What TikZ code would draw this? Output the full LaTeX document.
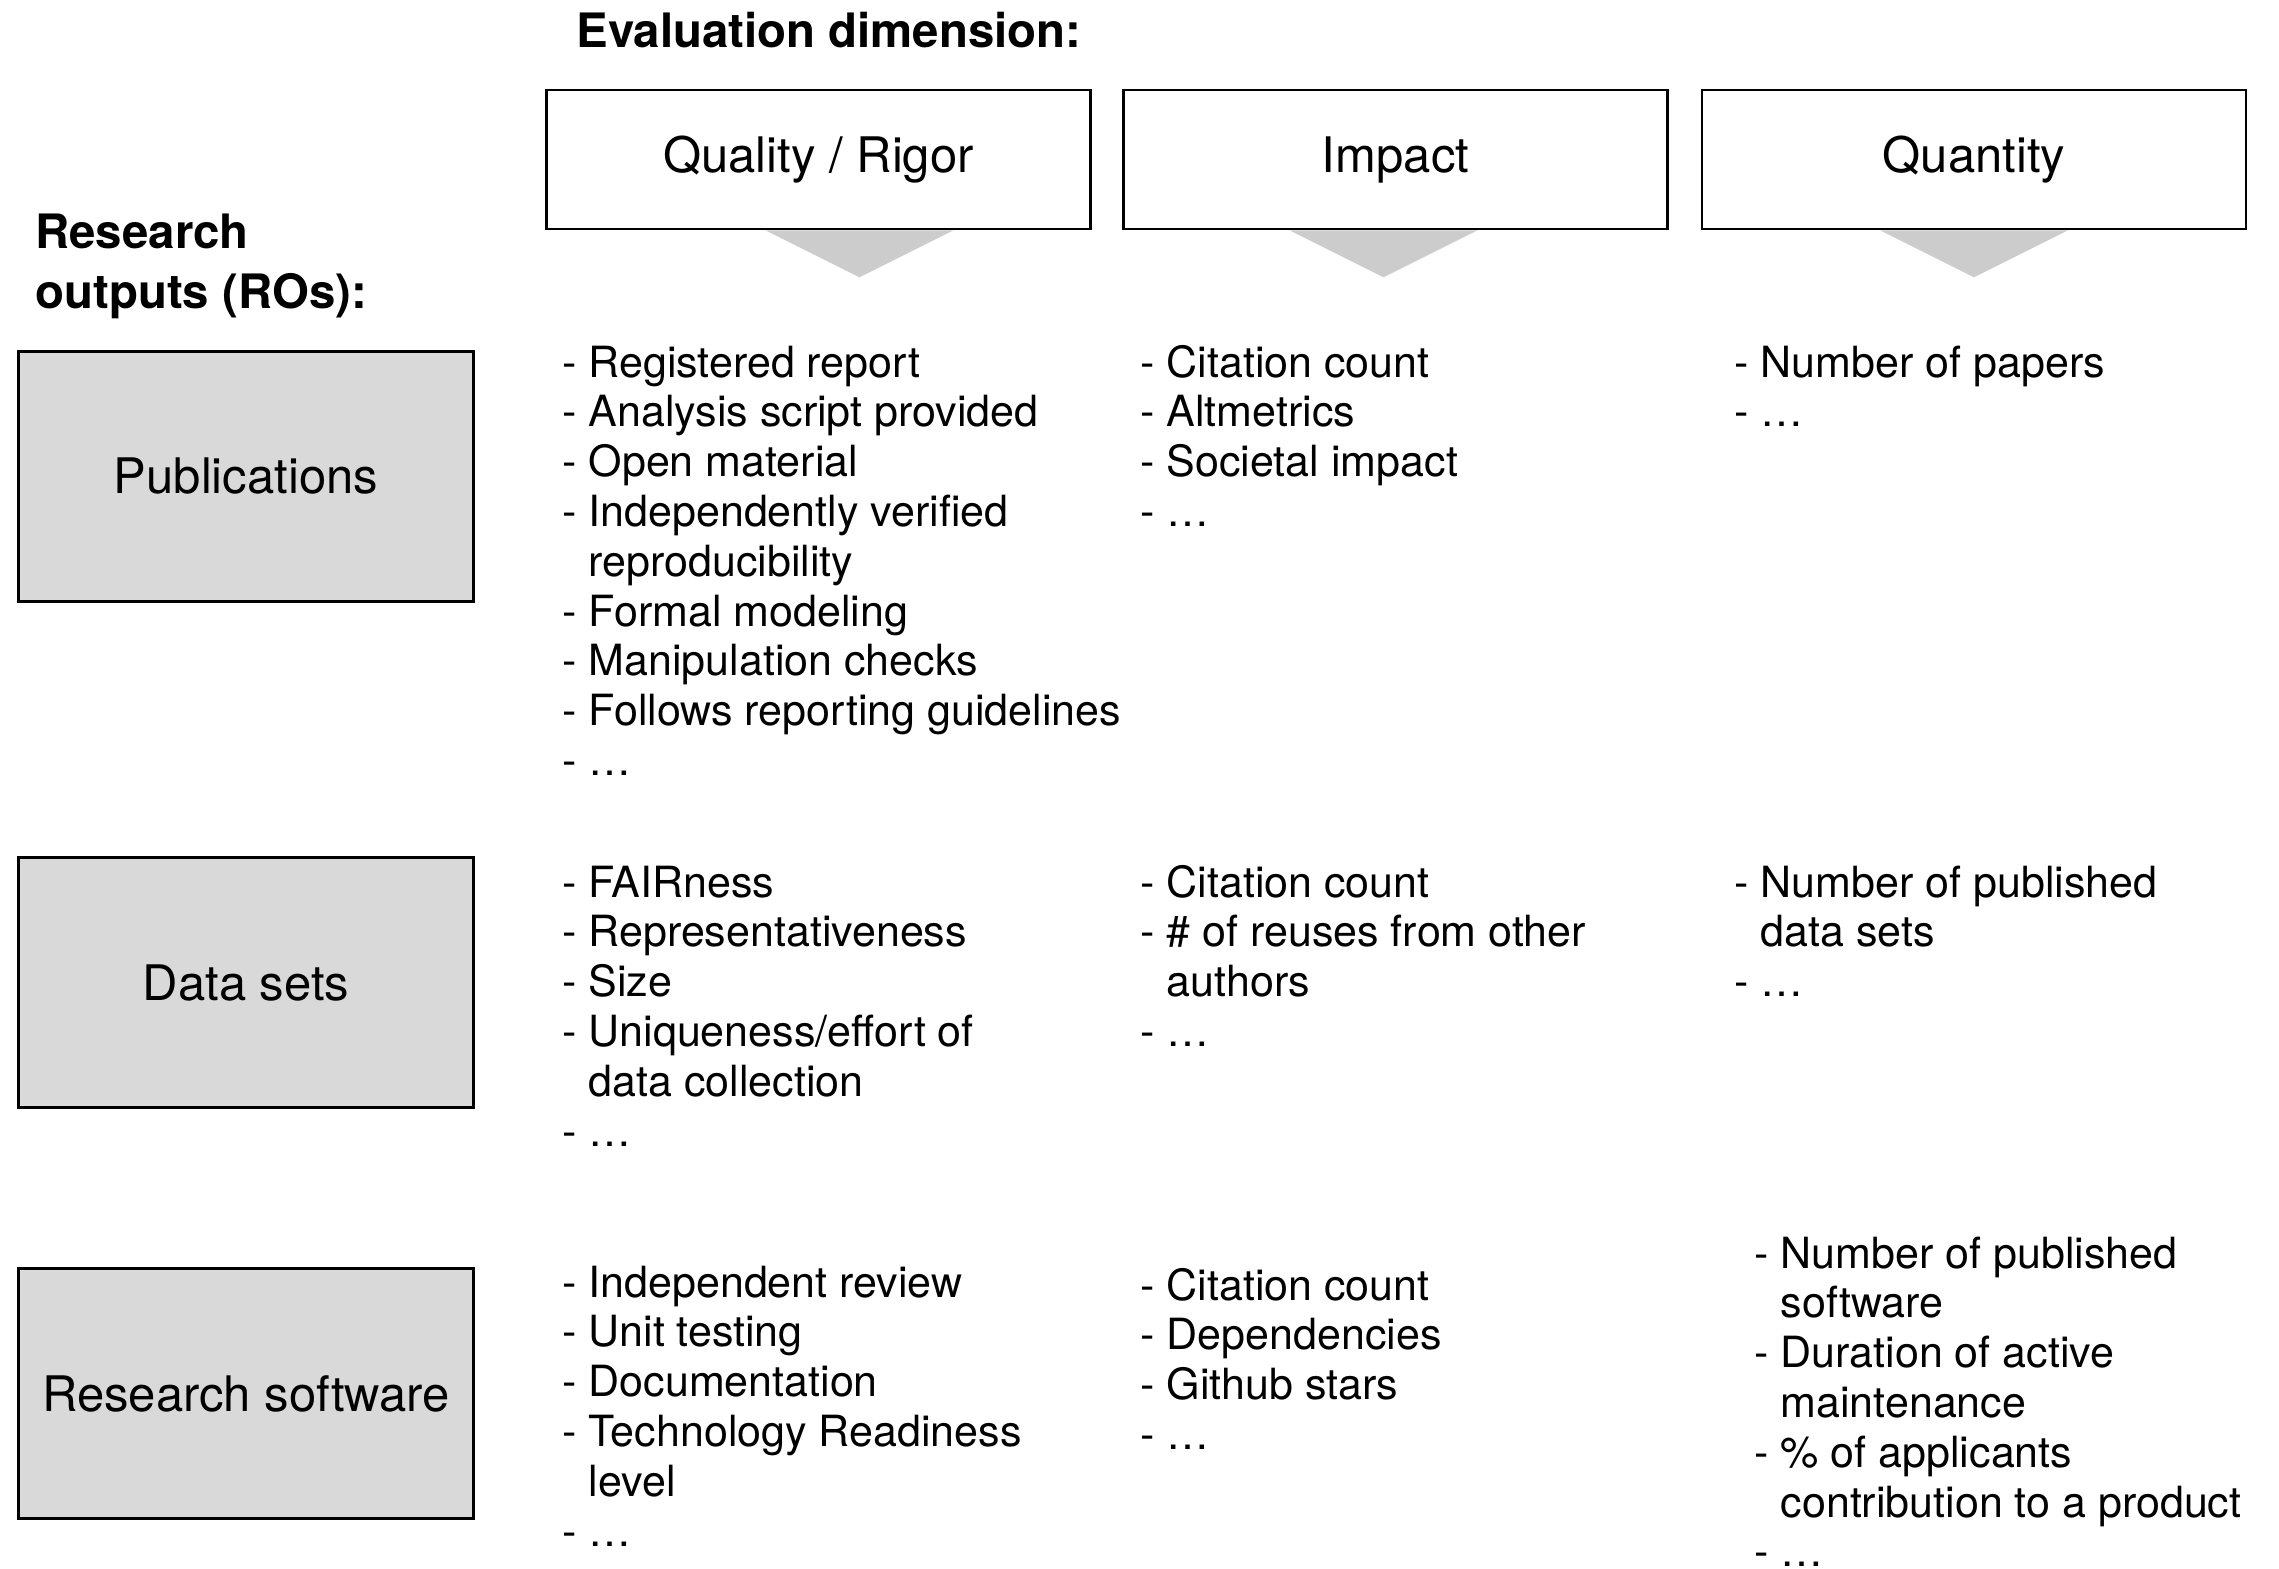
\documentclass[tikz,border=0pt]{standalone}
\usepackage{fontspec}
\setmainfont{TeX Gyre Heros}
\usetikzlibrary{positioning,calc}
\definecolor{boxgray}{RGB}{217,217,217}
\definecolor{wedgegray}{RGB}{204,204,204}
\newcommand\items[1]{\begin{tabular}[t]{@{}l@{}}#1\end{tabular}}
\newcommand\hang{\hphantom{-\ }}
\newcommand\pointer[2]{
  \fill[wedge] ($(#1.south)+(#2-94,0)$) -- ($(#1.south)+(#2+94,0)$) -- ($(#1.south)+(#2,47)$) -- cycle;
}

\begin{document}
\begin{tikzpicture}[
    x=0.5pt,y=-0.5pt,
    heading/.style={anchor=base west, inner sep=0pt, font={\fontsize{23.7}{30}\selectfont\bfseries}},
    dimbox/.style={draw, line width=1.3pt, fill=white, minimum width=272pt, minimum height=69.5pt,
                   inner sep=0pt, font={\fontsize{24.5}{29}\selectfont}},
    robox/.style={draw, line width=1.3pt, fill=boxgray, minimum width=227.5pt, minimum height=125pt,
                  inner sep=0pt, font={\fontsize{24.5}{29}\selectfont}},
    wedge/.style={fill=wedgegray},
    cell/.style={anchor=base west, inner sep=0pt, font={\fontsize{21.5}{24.9}\selectfont}},]

    \useasboundingbox (0,0) rectangle (2279,1568);

    % headings
    \node[heading] (evaltitle) at (576,48) {Evaluation dimension:};
    \node[heading] (rotitle) at (35,248) {\items{Research\\outputs (ROs):}};

    % evaluation dimensions
    \node[dimbox] (quality) at (818.5,159.5) {Quality / Rigor};
    \node[dimbox] (impact) at (1395.5,159.5) {Impact};
    \node[dimbox] (quantity) at (1974,159.5) {Quantity};
    \pointer{quality}{41}
    \pointer{impact}{-12}
    \pointer{quantity}{0}

    % research outputs
    \node[robox] (pub) at (246,476.5) {Publications};
    \node[robox] (data) at (246,982.5) {Data sets};
    \node[robox] (soft) at (246,1393.5) {Research software};

    % publications
    \node[cell] (pubQ) at (562,377) {\items{- Registered report\\- Analysis script provided\\- Open material\\
      - Independently verified\\\hang reproducibility\\- Formal modeling\\- Manipulation checks\\
      - Follows reporting guidelines\\- …}};
    \node[cell] (pubI) at (1140,377) {\items{- Citation count\\- Altmetrics\\- Societal impact\\- …}};
    \node[cell] (pubN) at (1734,377) {\items{- Number of papers\\- …}};

    % data sets
    \node[cell] (dataQ) at (562,897) {\items{- FAIRness\\- Representativeness\\- Size\\
      - Uniqueness/effort of\\\hang data collection\\- …}};
    \node[cell] (dataI) at (1140,897) {\items{- Citation count\\- \# of reuses from other\\\hang authors\\- …}};
    \node[cell] (dataN) at (1734,897) {\items{- Number of published\\\hang data sets\\- …}};

    % research software
    \node[cell] (softQ) at (562,1297) {\items{- Independent review\\- Unit testing\\- Documentation\\
      - Technology Readiness\\\hang level\\- …}};
    \node[cell] (softI) at (1140,1300) {\items{- Citation count\\- Dependencies\\- Github stars\\- …}};
    \node[cell] (softN) at (1754,1268) {\items{- Number of published\\\hang software\\
      - Duration of active\\\hang maintenance\\- \% of applicants\\\hang contribution to a product\\- …}};

\end{tikzpicture}
\end{document}
